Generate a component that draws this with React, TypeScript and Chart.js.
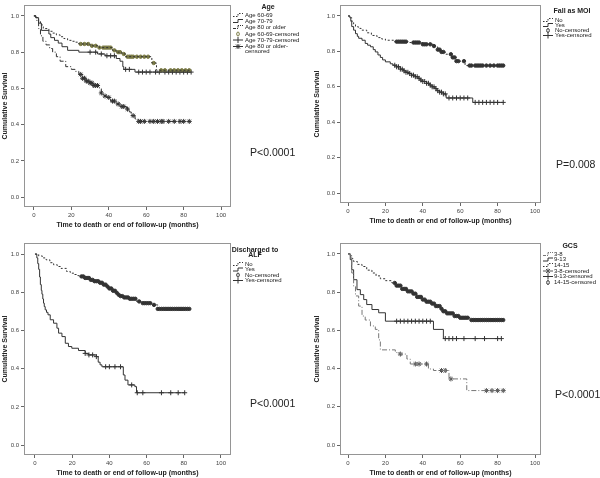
import React, { useEffect, useRef } from 'react';
import { Chart, registerables } from 'chart.js';
Chart.register(...registerables);

const FONT = "'Liberation Sans', Arial, sans-serif";
const X_TICKS = [0, 20, 40, 60, 80, 100];
const Y_TICKS = [0, 0.2, 0.4, 0.6, 0.8, 1.0];
const X_TITLE = 'Time to death or end of follow-up (months)';
const Y_TITLE = 'Cumulative Survival';

// ---------- Panel 1: Age ----------
const age6069T = [1.5, 2.5, 3.5, 5, 8, 10, 12, 14, 16, 18, 20, 22, 24, 30, 35, 42, 44, 47, 49, 63, 65.5];
const age6069S = [0.99, 0.97, 0.95, 0.93, 0.915, 0.905, 0.895, 0.885, 0.875, 0.865, 0.86, 0.855, 0.845, 0.835, 0.825, 0.81, 0.8, 0.79, 0.775, 0.74, 0.7];
const age6069C = [25, 27, 29, 31, 33, 35, 37, 38, 39, 40, 41, 43, 45, 46, 48, 50, 51, 52, 53, 55, 57, 59, 61, 64, 68, 70, 73, 75, 77, 79, 81, 83];
const age7079T = [1, 2.5, 4, 8, 9, 11, 13, 15, 18, 24, 34, 38, 44, 46, 47.5, 48, 54];
const age7079S = [0.99, 0.96, 0.92, 0.9, 0.88, 0.865, 0.85, 0.83, 0.81, 0.8, 0.79, 0.78, 0.765, 0.75, 0.72, 0.705, 0.69];
const age7079C = [30, 33, 36, 39, 41, 43, 49, 51, 56, 58, 60, 62, 65, 67, 70, 72, 74, 76, 78, 80, 82, 84];
const age80T = [1, 1.6, 2.5, 3.5, 4.8, 6.5, 8.4, 10, 12, 14, 17, 20, 22, 24, 26, 28, 30, 32, 35, 36, 37, 39, 41, 44, 46.7, 49.4, 51, 52, 54, 55.6];
const age80S = [0.99, 0.97, 0.93, 0.89, 0.86, 0.84, 0.82, 0.8, 0.775, 0.75, 0.72, 0.705, 0.694, 0.677, 0.656, 0.64, 0.63, 0.616, 0.598, 0.575, 0.558, 0.55, 0.53, 0.514, 0.5, 0.486, 0.47, 0.45, 0.432, 0.418];
const age80C = [25, 26, 27, 28, 29, 30, 31, 32, 33, 34, 36, 38, 40, 42, 43, 45, 47, 48, 50, 53, 56, 57, 59, 62, 64, 66, 68, 69, 72, 75, 78, 80, 83];

// ---------- Panel 2: Fall as MOI ----------
const fallNoT = [1.5, 2, 3, 4, 5.5, 7, 10, 12.5, 15.5, 18, 20, 24.4, 33, 40, 45.7, 46.6, 48, 50, 52, 55.5, 58, 62.6];
const fallNoS = [0.99, 0.97, 0.955, 0.94, 0.93, 0.92, 0.905, 0.89, 0.878, 0.87, 0.863, 0.855, 0.85, 0.84, 0.83, 0.825, 0.81, 0.797, 0.784, 0.766, 0.745, 0.72];
const fallNoC = [26, 27, 28, 29, 30, 31, 35, 36, 37, 38, 40, 41, 42, 44, 46, 48, 49, 50, 51, 55, 56, 57, 58, 59, 62, 65, 66, 68, 69, 70, 71, 72, 74, 76, 78, 80, 81, 82, 83];
const fallYesT = [1, 1.5, 2, 3, 4, 5, 5.7, 7.5, 9.2, 10.5, 12, 13.5, 14.6, 16, 17.3, 18.5, 20, 22.6, 24, 26, 28, 29.7, 31, 32.4, 34, 36, 37.5, 38.6, 40, 42, 43.5, 45, 46.5, 47.5, 49, 51, 52.5, 66.7];
const fallYesS = [0.99, 0.97, 0.94, 0.92, 0.9, 0.885, 0.874, 0.863, 0.845, 0.835, 0.826, 0.81, 0.797, 0.78, 0.766, 0.752, 0.741, 0.73, 0.722, 0.713, 0.7, 0.69, 0.682, 0.675, 0.666, 0.657, 0.648, 0.638, 0.63, 0.62, 0.61, 0.6, 0.59, 0.578, 0.57, 0.56, 0.537, 0.512];
const fallYesC = [25, 26, 27, 28, 29, 30, 31, 32, 33, 34, 35, 36, 37, 38, 39, 40, 41, 42, 43, 44, 45, 46, 47, 48, 49, 50, 51, 52, 54, 56, 58, 60, 62, 64, 68, 70, 72, 74, 76, 78, 80, 83];

// ---------- Panel 3: Discharged to ALF ----------
const alfNoT = [2, 4, 6, 8, 10, 12, 14, 17, 19, 21, 23, 25, 27, 29.6, 32, 35, 37, 38.6, 40, 42, 43.5, 44.8, 46, 47.5, 51, 54.6, 57.3, 63.6, 66];
const alfNoS = [0.99, 0.98, 0.97, 0.955, 0.944, 0.935, 0.925, 0.909, 0.9, 0.893, 0.887, 0.883, 0.875, 0.865, 0.858, 0.85, 0.84, 0.83, 0.82, 0.808, 0.797, 0.787, 0.78, 0.773, 0.766, 0.752, 0.743, 0.734, 0.713];
const alfNoC = [25, 26, 27, 28, 29, 30, 31, 32, 33, 34, 35, 36, 37, 38, 39, 40, 41, 42, 43, 44, 45, 46, 47, 48, 49, 50, 51, 52, 53, 54, 56, 58, 59, 60, 61, 62, 64, 66, 67, 68, 69, 70, 71, 72, 73, 74, 75, 76, 77, 78, 79, 80, 81, 82, 83];
const alfYesT = [1, 1.5, 2, 2.5, 2.9, 3.4, 3.75, 4.2, 4.6, 5, 5.5, 6.2, 7, 8.2, 10, 11.8, 12.7, 14.5, 16.3, 18, 19.8, 23.4, 27, 28.8, 33, 34, 35, 36, 47.5, 48.4, 50, 53.7, 54.6];
const alfYesS = [0.98, 0.95, 0.92, 0.88, 0.84, 0.81, 0.79, 0.765, 0.743, 0.725, 0.708, 0.695, 0.682, 0.656, 0.638, 0.612, 0.586, 0.568, 0.533, 0.516, 0.507, 0.495, 0.48, 0.472, 0.463, 0.434, 0.42, 0.41, 0.367, 0.34, 0.315, 0.306, 0.274];
const alfYesC = [27, 29, 31, 33, 38, 40, 43, 46, 52, 55, 58, 68, 73, 77, 80.5];

// ---------- Panel 4: GCS ----------
const gcs38T = [1.2, 2, 3, 4, 5.7, 7.5, 9.2, 12, 14.6, 16.4, 17.3, 25.3, 28, 31.5, 33.3, 43, 45.7, 54, 63.5];
const gcs38S = [0.99, 0.9, 0.83, 0.78, 0.727, 0.675, 0.654, 0.623, 0.605, 0.55, 0.498, 0.484, 0.476, 0.45, 0.424, 0.398, 0.39, 0.346, 0.285];
const gcs38C = [28, 36, 38, 42, 50, 52, 55, 74, 77, 80, 83];
const gcs913T = [1.2, 2, 3, 4.8, 6.6, 8.4, 10, 12.8, 16.4, 20, 45.7, 51];
const gcs913S = [0.97, 0.917, 0.865, 0.813, 0.787, 0.761, 0.735, 0.709, 0.692, 0.648, 0.605, 0.557];
const gcs913C = [26, 28, 30, 32, 34, 36, 38, 40, 42, 44, 52, 54, 56, 58, 62, 68, 73, 80, 82];
const gcs1415T = [1, 2, 3, 5, 7.5, 10, 12.8, 15, 17.3, 20, 23.5, 26, 28.8, 31.5, 35, 36.8, 39.5, 42, 45, 46.6, 49.3, 51, 52.8, 56.4, 60, 65.3];
const gcs1415S = [0.99, 0.975, 0.96, 0.945, 0.934, 0.915, 0.9, 0.885, 0.87, 0.86, 0.848, 0.834, 0.817, 0.804, 0.792, 0.775, 0.761, 0.75, 0.74, 0.727, 0.713, 0.7, 0.689, 0.675, 0.666, 0.654];
const gcs1415C = [25, 26, 27, 28, 29, 30, 31, 32, 33, 34, 35, 36, 37, 38, 39, 40, 41, 42, 43, 44, 45, 46, 47, 48, 49, 50, 51, 52, 53, 54, 55, 56, 57, 58, 59, 60, 61, 62, 63, 64, 66, 67, 68, 69, 70, 71, 72, 73, 74, 75, 76, 77, 78, 79, 80, 81, 82, 83];

type Marker = 'circle' | 'cross' | 'star';
interface Curve {
  label: string; censorLabel: string[]; times: number[]; surv: number[]; end: number; censored: number[];
  color: string; dash: number[]; marker: Marker; markerColor: string;
}
interface Panel {
  left: number; top: number; w: number; h: number;
  area: { left: number; top: number; right: number; bottom: number };
  xMin: number; xMax: number; yMin: number; yMax: number;
  xTitlePad: number; yTitlePad: number;
  legendTitle: string[]; titleCx: number; titleY: number[];
  symX: number; textX: number; rows: number[];
  pText: string; pX: number; pY: number;
  curves: Curve[];
}

const DOT = [2, 2];
const SOLID: number[] = [];
const DASHDOT = [5, 2, 1, 2];

const PANELS: Panel[] = [
  {
    left: 0, top: 0, w: 300, h: 238,
    area: { left: 24, top: 1, right: 231, bottom: 207 },
    xMin: -5.3, xMax: 105.3, yMin: -0.054, yMax: 1.06, xTitlePad: 8.5, yTitlePad: 0.8,
    legendTitle: ['Age'], titleCx: 268, titleY: [7],
    symX: 233, textX: 245, rows: [15, 21, 27, 34, 40, 46.5],
    pText: 'P<0.0001', pX: 250, pY: 153,
    curves: [
      { label: 'Age 60-69', censorLabel: ['Age 60-69-censored'], times: age6069T, surv: age6069S, end: 84, censored: age6069C, color: '#333', dash: DOT, marker: 'circle', markerColor: '#7a7a45' },
      { label: 'Age 70-79', censorLabel: ['Age 70-79-censored'], times: age7079T, surv: age7079S, end: 84, censored: age7079C, color: '#333', dash: SOLID, marker: 'cross', markerColor: '#333' },
      { label: 'Age 80 or older', censorLabel: ['Age 80 or older-', 'censored'], times: age80T, surv: age80S, end: 83, censored: age80C, color: '#333', dash: DASHDOT, marker: 'star', markerColor: '#333' },
    ],
  },
  {
    left: 300, top: 0, w: 300, h: 238,
    area: { left: 40, top: 5, right: 241, bottom: 203 },
    xMin: -4.28, xMax: 103.2, yMin: -0.056, yMax: 1.062, xTitlePad: 12.8, yTitlePad: 12.5,
    legendTitle: ['Fall as MOI'], titleCx: 272, titleY: [11],
    symX: 243, textX: 255, rows: [20, 25, 30.5, 35.5],
    pText: 'P=0.008', pX: 256, pY: 165,
    curves: [
      { label: 'No', censorLabel: ['No-censored'], times: fallNoT, surv: fallNoS, end: 84, censored: fallNoC, color: '#333', dash: DOT, marker: 'circle', markerColor: '#333' },
      { label: 'Yes', censorLabel: ['Yes-censored'], times: fallYesT, surv: fallYesS, end: 83, censored: fallYesC, color: '#333', dash: SOLID, marker: 'cross', markerColor: '#333' },
    ],
  },
  {
    left: 0, top: 238, w: 300, h: 240,
    area: { left: 24, top: 5, right: 231, bottom: 217 },
    xMin: -5.9, xMax: 105.4, yMin: -0.052, yMax: 1.058, xTitlePad: 0.8, yTitlePad: 0.5,
    legendTitle: ['Discharged to', 'ALF'], titleCx: 255, titleY: [12, 17.5],
    symX: 233, textX: 245, rows: [26, 31.5, 37, 42.5],
    pText: 'P<0.0001', pX: 250, pY: 166,
    curves: [
      { label: 'No', censorLabel: ['No-censored'], times: alfNoT, surv: alfNoS, end: 84, censored: alfNoC, color: '#333', dash: DOT, marker: 'circle', markerColor: '#333' },
      { label: 'Yes', censorLabel: ['Yes-censored'], times: alfYesT, surv: alfYesS, end: 80.5, censored: alfYesC, color: '#333', dash: SOLID, marker: 'cross', markerColor: '#333' },
    ],
  },
  {
    left: 300, top: 238, w: 300, h: 240,
    area: { left: 40, top: 3, right: 241, bottom: 217 },
    xMin: -4.28, xMax: 103.2, yMin: -0.052, yMax: 1.057, xTitlePad: 0.8, yTitlePad: 12.5,
    legendTitle: ['GCS'], titleCx: 270, titleY: [8.5],
    symX: 243, textX: 254, rows: [16, 21.5, 27, 33, 38.5, 44.5],
    pText: 'P<0.0001', pX: 255, pY: 157,
    curves: [
      { label: '3-8', censorLabel: ['3-8-censored'], times: gcs38T, surv: gcs38S, end: 83, censored: gcs38C, color: '#777', dash: DASHDOT, marker: 'star', markerColor: '#555' },
      { label: '9-13', censorLabel: ['9-13-censored'], times: gcs913T, surv: gcs913S, end: 82, censored: gcs913C, color: '#333', dash: SOLID, marker: 'cross', markerColor: '#333' },
      { label: '14-15', censorLabel: ['14-15-censored'], times: gcs1415T, surv: gcs1415S, end: 84, censored: gcs1415C, color: '#333', dash: DOT, marker: 'circle', markerColor: '#333' },
    ],
  },
];

function survAt(c: Curve, t: number): number {
  let s = 1;
  for (let k = 0; k < c.times.length; k++) if (c.times[k] <= t) s = c.surv[k];
  return s;
}

function drawMarker(ctx: CanvasRenderingContext2D, m: Marker, x: number, y: number, color: string) {
  ctx.save();
  ctx.strokeStyle = color; ctx.fillStyle = color; ctx.lineWidth = 1; ctx.setLineDash([]);
  ctx.beginPath();
  if (m === 'circle') {
    ctx.ellipse(x, y, 1.3, 2, 0, 0, Math.PI * 2);
    ctx.stroke();
  } else if (m === 'cross') {
    ctx.moveTo(x - 5, y); ctx.lineTo(x + 5, y); ctx.moveTo(x, y - 3); ctx.lineTo(x, y + 3); ctx.stroke();
  } else {
    ctx.moveTo(x - 5, y); ctx.lineTo(x + 5, y);
    ctx.moveTo(x, y - 2.5); ctx.lineTo(x, y + 2.5);
    ctx.moveTo(x - 2, y - 2); ctx.lineTo(x + 2, y + 2);
    ctx.moveTo(x + 2, y - 2); ctx.lineTo(x - 2, y + 2);
    ctx.stroke();
  }
  ctx.restore();
}

function makePlugin(p: Panel) {
  return {
    id: 'kmDecor',
    beforeDatasetsDraw(chart: any) {
      const { ctx, chartArea: a } = chart;
      ctx.save();
      ctx.strokeStyle = '#959595'; ctx.lineWidth = 1;
      ctx.strokeRect(a.left + 0.5, a.top + 0.5, a.right - a.left - 1, a.bottom - a.top - 1);
      ctx.restore();
    },
    afterDraw(chart: any) {
      const ctx: CanvasRenderingContext2D = chart.ctx;
      ctx.save();
      ctx.fillStyle = '#222';
      ctx.textAlign = 'center'; ctx.textBaseline = 'middle';
      ctx.font = `bold 7px ${FONT}`;
      p.legendTitle.forEach((t, i) => ctx.fillText(t, p.titleCx, p.titleY[i]));
      ctx.font = `6px ${FONT}`;
      ctx.textAlign = 'left';
      let r = 0;
      p.curves.forEach((c) => {
        const y = p.rows[r++];
        ctx.save();
        ctx.strokeStyle = c.color; ctx.lineWidth = 1; ctx.setLineDash(c.dash.length ? [1.5, 1.5] : []);
        if (c.dash === DASHDOT) ctx.setLineDash([3, 1, 1, 1]);
        ctx.beginPath();
        ctx.moveTo(p.symX, y + 1.5); ctx.lineTo(p.symX + 5, y + 1.5); ctx.lineTo(p.symX + 5, y - 1.5); ctx.lineTo(p.symX + 10, y - 1.5);
        ctx.stroke();
        ctx.restore();
        ctx.fillText(c.label, p.textX, y);
      });
      p.curves.forEach((c) => {
        const y = p.rows[r++];
        drawMarker(ctx, c.marker, p.symX + 5, y, c.markerColor);
        c.censorLabel.forEach((t, i) => ctx.fillText(t, p.textX, y + i * 5));
      });
      ctx.font = `10.5px ${FONT}`;
      ctx.fillStyle = '#222';
      ctx.fillText(p.pText, p.pX, p.pY);
      ctx.restore();
    },
  };
}

function buildConfig(p: Panel): any {
  const datasets: any[] = [];
  p.curves.forEach((c) => {
    const pts = [{ x: 0, y: 1 }, ...c.times.map((t, k) => ({ x: t, y: c.surv[k] })), { x: c.end, y: c.surv[c.surv.length - 1] }];
    datasets.push({
      type: 'line', label: c.label, data: pts, stepped: 'before', borderColor: c.color, borderWidth: 1,
      borderDash: c.dash, pointRadius: 0, fill: false,
    });
  });
  p.curves.forEach((c) => {
    datasets.push({
      type: 'scatter', label: c.censorLabel.join(''), data: c.censored.map((t) => ({ x: t, y: survAt(c, t) })),
      pointStyle: c.marker === 'circle' ? 'circle' : c.marker === 'cross' ? 'cross' : 'star',
      pointRadius: c.marker === 'circle' ? 1.7 : 2.5, borderWidth: 1,
      borderColor: c.markerColor, backgroundColor: c.marker === 'circle' ? c.markerColor : 'transparent', showLine: false,
    });
  });
  const tickFont = { size: 6, family: FONT };
  const titleFont = { size: 7, family: FONT, weight: 'bold' as const };
  return {
    type: 'line',
    data: { datasets },
    plugins: [makePlugin(p)],
    options: {
      responsive: false, maintainAspectRatio: false, animation: false,
      layout: { padding: { left: 0, top: p.area.top, right: p.w - p.area.right, bottom: 0 } },
      plugins: { legend: { display: false }, tooltip: { enabled: false } },
      scales: {
        x: {
          type: 'linear', min: p.xMin, max: p.xMax,
          afterBuildTicks: (s: any) => { s.ticks = X_TICKS.map((v) => ({ value: v })); },
          afterFit: (s: any) => { s.height = p.h - p.area.bottom; s.paddingLeft = 0; s.paddingRight = 0; },
          ticks: { font: tickFont, color: '#444', padding: 2, maxRotation: 0, autoSkip: false, callback: (v: any) => String(v) },
          grid: { display: true, drawOnChartArea: false, drawTicks: true, tickLength: 3, color: '#666' },
          border: { display: false },
          title: { display: true, text: X_TITLE, font: titleFont, color: '#222', padding: { top: 0, bottom: p.xTitlePad } },
        },
        y: {
          type: 'linear', min: p.yMin, max: p.yMax,
          afterBuildTicks: (s: any) => { s.ticks = Y_TICKS.map((v) => ({ value: v })); },
          afterFit: (s: any) => { s.width = p.area.left; s.paddingTop = 0; s.paddingBottom = 0; },
          ticks: { font: tickFont, color: '#444', padding: 2, autoSkip: false, callback: (v: any) => Number(v).toFixed(1) },
          grid: { display: true, drawOnChartArea: false, drawTicks: true, tickLength: 3, color: '#666' },
          border: { display: false },
          title: { display: true, text: Y_TITLE, font: titleFont, color: '#222', padding: { top: p.yTitlePad, bottom: 0 } },
        },
      },
    },
  };
}

export default function App() {
  const refs = useRef<(HTMLCanvasElement | null)[]>([]);
  useEffect(() => {
    Chart.defaults.font.family = FONT;
    const charts = PANELS.map((p, i) => new Chart(refs.current[i] as HTMLCanvasElement, buildConfig(p)));
    return () => charts.forEach((c) => c.destroy());
  }, []);
  return (
    <div style={{ position: 'absolute', left: 0, top: 0, width: 600, height: 478, background: '#fff' }}>
      {PANELS.map((p, i) => (
        <canvas
          key={i}
          ref={(el) => { refs.current[i] = el; }}
          width={p.w}
          height={p.h}
          style={{ position: 'absolute', left: p.left, top: p.top, width: p.w, height: p.h }}
        />
      ))}
    </div>
  );
}
